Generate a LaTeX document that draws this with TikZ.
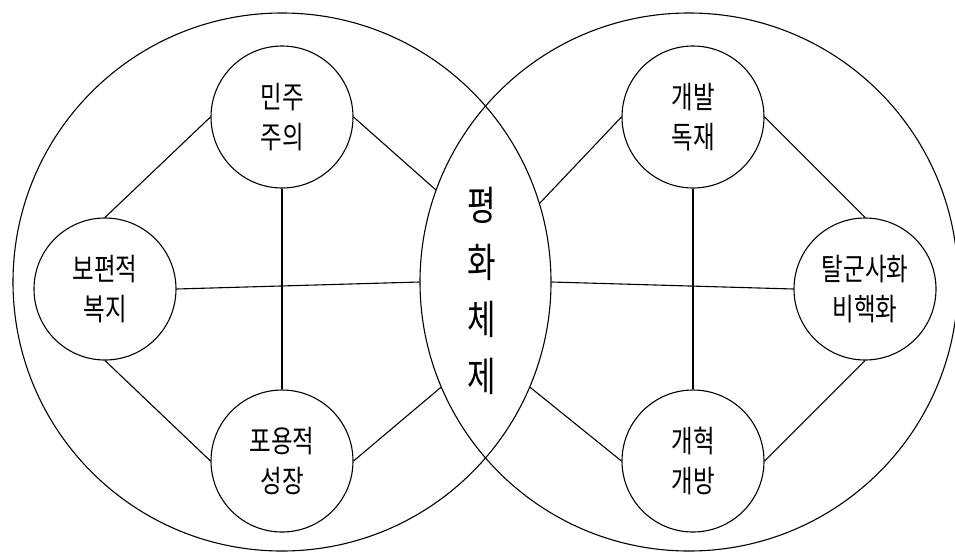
\documentclass[tikz,border=0pt]{standalone}
\usepackage{graphicx}
\usepackage{fontspec}
\newfontfamily\kr{Noto Sans CJK KR}
\newcommand\tallchar[1]{\scalebox{1}[1.3]{#1}}
\begin{document}
\begin{tikzpicture}[x=1pt,y=-1pt,
  big/.style={circle,draw,line width=1.1pt,minimum size=538pt,inner sep=0pt},
  small/.style={circle,draw,line width=1.1pt,minimum size=142pt,inner sep=0pt,align=center,font=\kr\fontsize{23.5}{40}\selectfont},
  link/.style={line width=1.1pt}]
\useasboundingbox (0,0) rectangle (955,555);
\node[big] (L) at (282,282) {};
\node[big] (R) at (689,282) {};
\node[font=\kr\fontsize{31}{57}\selectfont, align=center] (peace) at (482,291)
  {\tallchar{평}\\\tallchar{화}\\\tallchar{체}\\\tallchar{제}};
% left
\node[small] (minju) at (282,117) {\tallchar{민주}\\\tallchar{주의}};
\node[small] (bokji) at (105,289) {\tallchar{보편적}\\\tallchar{복지}};
\node[small] (seong) at (282,461) {\tallchar{포용적}\\\tallchar{성장}};
% right
\node[small] (gaebal) at (693,117) {\tallchar{개발}\\\tallchar{독재}};
\node[small] (talgun) at (865,289) {\tallchar{탈군사화}\\\tallchar{비핵화}};
\node[small] (gaehyeok) at (693,461) {\tallchar{개혁}\\\tallchar{개방}};
% left connectors
\draw[link] (minju.west) -- (bokji.north);
\draw[link] (bokji.south) -- (seong.west);
\draw[link] (minju.east) -- (R.160.4);
\draw[link] (seong.east) -- (R.203.8);
\draw[link] (minju.south) -- (seong.north);
\draw[link] (bokji.east) -- (R.180.7);
% right connectors
\draw[link] (gaebal.east) -- (talgun.north);
\draw[link] (talgun.south) -- (gaehyeok.east);
\draw[link] (gaebal.west) -- (L.17);
\draw[link] (gaehyeok.west) -- (L.-23.5);
\draw[link] (gaebal.south) -- (gaehyeok.north);
\draw[link] (L.-0.6) -- (talgun.west);
\end{tikzpicture}
\end{document}
